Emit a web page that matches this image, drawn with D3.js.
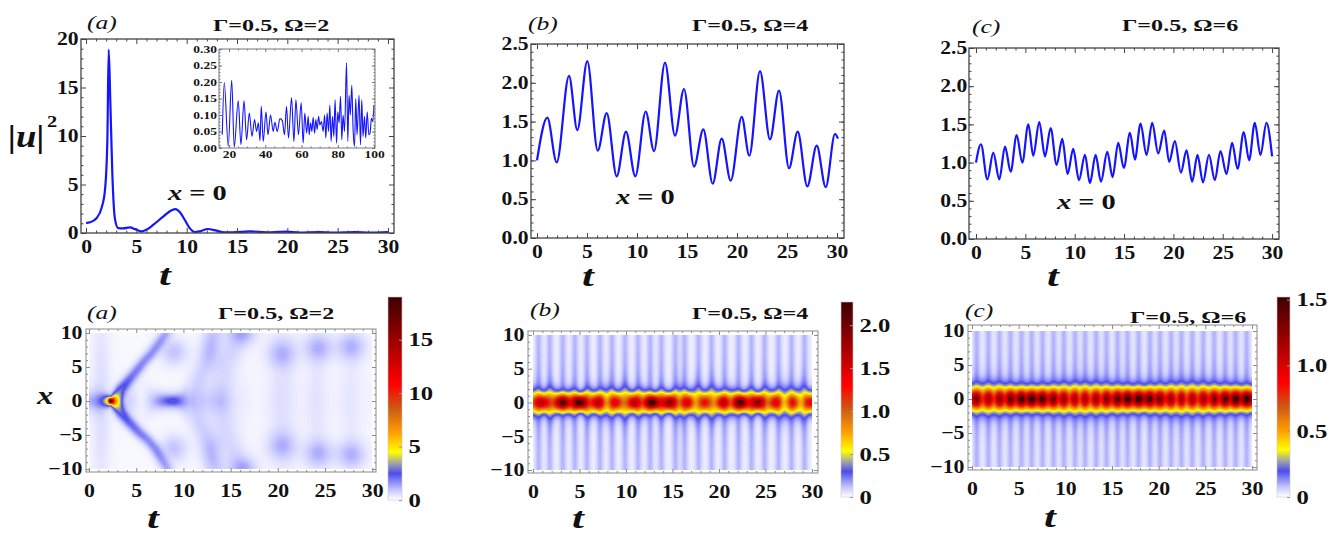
<!DOCTYPE html>
<html>
<head>
<meta charset="utf-8">
<script src="https://cdn.jsdelivr.net/npm/d3@7"></script>
<style>
  body { margin: 0; background: #fff; }
  svg { display: block; }
</style>
</head>
<body>
<svg id="fig" width="1341" height="536"></svg>
<script>
// ---------- |u(0,t)|^2 time series ----------
// Γ=0.5, Ω=2
const tA = [0, 0.4, 1.06, 1.55, 1.89, 2.12, 2.25, 2.41, 2.61, 2.88, 3.2, 3.7, 4.37, 4.86, 5.5, 6.0, 6.7, 7.7, 8.5, 8.9, 9.33, 9.8, 10.3, 10.8, 11.3, 12.1, 12.97, 13.7, 14.6, 16.3, 17.9, 19.9, 21.2, 23.2, 24.5, 26.7, 28.2, 30];
const uA = [1.03, 1.1, 1.55, 2.6, 4.5, 9.6, 18.9, 13.7, 6.2, 1.4, 0.5, 0.48, 0.58, 0.4, 0.17, 0.34, 0.86, 1.72, 2.34, 2.47, 2.13, 1.37, 0.5, 0.1, 0.17, 0.41, 0.24, 0.07, 0.07, 0.17, 0.07, 0.14, 0.04, 0.1, 0.04, 0.1, 0.04, 0.1];

// long-time tail for Ω=2 (inset)
const tInset = [16.3, 17.4, 19.6, 21.5, 22.9, 25.1, 26.6, 28.3, 29.7, 31.2, 32.7, 34.1, 35.2, 36.2, 37.1, 37.8, 38.9, 40.4, 41.5, 42.9, 44.4, 45.3, 46.6, 48.1, 49.4, 50.6, 51.7, 52.8, 54.5, 55.8, 56.9, 58.3, 59.8, 60.9, 61.8, 62.8, 63.7, 64.2, 65.0, 65.7, 66.4, 67.2, 67.9, 68.6, 69.4, 70.1, 71.0, 71.9, 72.7, 73.4, 74.1, 74.9, 75.6, 76.3, 77.1, 77.8, 78.5, 79.3, 80.0, 80.7, 81.5, 82.2, 82.9, 83.7, 84.8, 85.5, 86.2, 86.9, 87.7, 88.4, 89.2, 89.9, 90.6, 91.7, 92.5, 93.2, 93.9, 94.7, 95.4, 96.2, 97.1, 97.8, 98.5, 99.3, 99.9];
const uInset = [0.04, 0.198, 0.005, 0.205, 0.003, 0.143, 0.01, 0.143, 0.025, 0.106, 0.035, 0.086, 0.05, 0.076, 0.022, 0.126, 0.02, 0.11, 0.04, 0.10, 0.05, 0.078, 0.05, 0.089, 0.083, 0.04, 0.126, 0.03, 0.152, 0.02, 0.146, 0.04, 0.137, 0.015, 0.106, 0.045, 0.096, 0.04, 0.076, 0.05, 0.093, 0.045, 0.086, 0.056, 0.096, 0.07, 0.08, 0.05, 0.10, 0.03, 0.106, 0.05, 0.13, 0.02, 0.096, 0.035, 0.146, 0.015, 0.11, 0.076, 0.157, 0.025, 0.10, 0.05, 0.258, 0.02, 0.16, 0.10, 0.19, 0.06, 0.005, 0.15, 0.04, 0.16, 0.01, 0.146, 0.035, 0.096, 0.03, 0.11, 0.04, 0.045, 0.09, 0.08, 0.13];

// Γ=0.5, Ω=4
const tB = [0, 1.03, 1.97, 3.2, 4.03, 5.03, 6.07, 6.97, 7.97, 8.9, 9.83, 10.87, 11.7, 12.8, 13.8, 14.7, 15.7, 16.63, 17.57, 18.47, 19.37, 20.47, 21.23, 22.3, 23.3, 24.2, 25.2, 26.07, 27.03, 27.97, 28.87, 29.8, 30.1];
const uB = [1.0, 1.55, 0.975, 2.09, 1.39, 2.28, 1.125, 1.61, 0.795, 1.37, 0.795, 1.63, 1.12, 2.26, 1.32, 1.92, 0.92, 1.40, 0.70, 1.28, 0.74, 1.56, 1.06, 2.15, 1.27, 1.90, 0.90, 1.37, 0.666, 1.19, 0.657, 1.34, 1.28];

// Γ=0.5, Ω=6
const tC = [0, 0.5, 1.15, 1.75, 2.36, 2.94, 3.51, 4.12, 4.69, 5.3, 5.8, 6.41, 6.99, 7.56, 8.17, 8.74, 9.28, 9.85, 10.43, 11.04, 11.54, 12.12, 12.66, 13.3, 13.84, 14.41, 14.98, 15.6, 16.1, 16.67, 17.28, 17.85, 18.46, 19.07, 19.57, 20.15, 20.76, 21.33, 21.9, 22.44, 23.0, 23.6, 24.2, 24.77, 25.38, 25.95, 26.5, 27.13, 27.67, 28.25, 28.82, 29.43, 30.0];
const uC = [1.0, 1.24, 0.78, 1.13, 0.78, 1.21, 0.88, 1.36, 1.0, 1.50, 1.09, 1.53, 1.08, 1.45, 0.97, 1.31, 0.85, 1.18, 0.77, 1.10, 0.73, 1.10, 0.75, 1.14, 0.81, 1.26, 0.93, 1.39, 1.04, 1.51, 1.10, 1.52, 1.12, 1.42, 1.01, 1.28, 0.87, 1.16, 0.75, 1.10, 0.74, 1.10, 0.77, 1.15, 0.85, 1.26, 0.92, 1.40, 1.03, 1.52, 1.10, 1.52, 1.08];

// ---------- tick labels ----------
const tTicks = [0, 5, 10, 15, 20, 25, 30];
const uTicksA = [0, 5, 10, 15, 20];
const uTicksBC = [0, 0.5, 1.0, 1.5, 2.0, 2.5];
const insetTTicks = [20, 40, 60, 80, 100];
const insetUTicks = [0, 0.05, 0.10, 0.15, 0.20, 0.25, 0.30];
const xTicks = [-10, -5, 0, 5, 10];
const barTicksA = [0, 5, 10, 15];
const barTicksB = [0, 0.5, 1.0, 1.5, 2.0];
const barTicksC = [0, 0.5, 1.0, 1.5];
const panelTags = ["(a)", "(b)", "(c)"];
const paramTags = ["Γ=0.5, Ω=2", "Γ=0.5, Ω=4", "Γ=0.5, Ω=6"];

// ---------- |u(x,t)|^2 structures for the Ω=2 map ----------
// radiation ridges: [t, x] nodes, density carried at each node, half-width in px
const ridgesA = [
  { pts: [[2.85, 0.2], [3.05, 0.8], [3.4, 1.7], [4.0, 2.7], [4.6, 3.7], [5.7, 5.6], [6.6, 7.0], [7.5, 8.7], [8.3, 10.3]],
    amp: [2.8, 2.9, 2.4, 2.1, 1.8, 1.6, 1.5, 1.3, 1.1], w: 4 },
  { pts: [[2.85, -0.2], [3.05, -0.8], [3.4, -1.7], [4.1, -2.9], [5.2, -4.5], [6.2, -5.7], [7.0, -7.0], [7.6, -8.4], [8.4, -10.2]],
    amp: [2.8, 2.9, 2.4, 2.1, 1.8, 1.6, 1.5, 1.3, 1.1], w: 4 },
  { pts: [[10.8, 0], [11.6, 3.0], [12.4, 6.0], [13.2, 10.3]], amp: [0.45, 0.55, 0.6, 0.65], w: 7 },
  { pts: [[10.8, 0], [11.6, -3.0], [12.5, -6.0], [13.4, -10.3]], amp: [0.45, 0.55, 0.6, 0.65], w: 7 },
  { pts: [[13.9, 0], [14.4, 4.8], [15.2, 7.5], [16.0, 10.3]], amp: [0.45, 0.5, 0.55, 0.6], w: 9 },
  { pts: [[13.9, 0], [14.6, -5.0], [15.3, -7.5], [16.1, -10.3]], amp: [0.45, 0.5, 0.55, 0.6], w: 9 }
];
// localized humps: t, x, density, spread in t, spread in x
const blobT = [9.0, 9.0, 16.3, 16.4, 20.4, 20.4, 24.3, 24.3, 27.8, 27.8, 1.3, 20.6, 24.2, 27.8, 13.0, 13.0];
const blobX = [7.2, -7.0, 9.8, -9.8, 7.0, -6.6, 7.8, -7.7, 8.0, -7.9, 0, 0, 0, 0, 7.5, -7.5];
const blobV = [0.85, 0.85, 0.75, 0.75, 0.9, 0.9, 0.95, 0.95, 0.95, 0.95, 0.45, 0.35, 0.3, 0.25, 0.4, 0.4];
const blobST = [1.0, 1.0, 1.0, 1.0, 1.1, 1.1, 1.1, 1.1, 1.1, 1.1, 0.7, 1.0, 0.8, 0.8, 0.8, 0.8];
const blobSX = [1.4, 1.4, 1.1, 1.1, 1.5, 1.5, 1.4, 1.4, 1.4, 1.4, 10, 8, 8, 8, 2.0, 2.0];

// emission lanes (t positions) in the Ω=4 and Ω=6 maps
const lanesB = [0.6, 1.8, 3.2, 4.5, 5.8, 7.2, 8.5, 9.9, 11.3, 12.6, 13.8, 15.3, 16.3, 17.8, 19.2, 20.6, 22.1, 23.5, 24.9, 26.4, 27.8, 29.2];
const lanesC = [0.5, 1.75, 2.94, 4.12, 5.3, 6.41, 7.56, 8.74, 9.85, 11.04, 12.12, 13.3, 14.41, 15.6, 16.67, 17.85, 19.07, 20.15, 21.33, 22.44, 23.6, 24.77, 25.95, 27.13, 28.25, 29.43];

// colour map (fractions of the maximum)
const cmapStops = [0, 0.05, 0.13, 0.178, 0.235, 0.33, 0.45, 0.57, 0.78, 1.0];
const cmapColors = ["#ffffff", "#c6c6ff", "#4c4cec", "#9e9eb0", "#ffff00", "#ffa000", "#cc5a14", "#ff0000", "#a00000", "#3c0000"];

// ---------- helpers ----------
const SX = 1.42;
const FONT = "'Liberation Serif','Times New Roman',serif";
const svg = d3.select("#fig");

function label(g, x, y, str, o = {}) {
  return g.append("text")
    .attr("transform", `translate(${x},${y}) scale(${o.sx || SX},1)`)
    .attr("font-family", FONT)
    .attr("font-size", o.size || 17)
    .attr("font-weight", o.weight || "bold")
    .attr("font-style", o.style || "normal")
    .attr("text-anchor", o.anchor || "start")
    .attr("fill", "#111")
    .text(str);
}

function monotone(ts, vs) {
  const n = ts.length, s = [], m = new Array(n);
  for (let i = 0; i < n - 1; i++) s[i] = (vs[i + 1] - vs[i]) / (ts[i + 1] - ts[i]);
  for (let i = 1; i < n - 1; i++) {
    const h0 = ts[i] - ts[i - 1], h1 = ts[i + 1] - ts[i];
    const p = (s[i - 1] * h1 + s[i] * h0) / (h0 + h1);
    m[i] = (Math.sign(s[i - 1]) + Math.sign(s[i])) * Math.min(Math.abs(s[i - 1]), Math.abs(s[i]), 0.5 * Math.abs(p)) || 0;
  }
  m[0] = (3 * s[0] - m[1]) / 2;
  m[n - 1] = (3 * s[n - 2] - m[n - 2]) / 2;
  return t => {
    let i = d3.bisectRight(ts, t) - 1;
    i = Math.max(0, Math.min(n - 2, i));
    const h = ts[i + 1] - ts[i], u = (t - ts[i]) / h;
    const u2 = u * u, u3 = u2 * u;
    return (2 * u3 - 3 * u2 + 1) * vs[i] + (u3 - 2 * u2 + u) * h * m[i] + (-2 * u3 + 3 * u2) * vs[i + 1] + (u3 - u2) * h * m[i + 1];
  };
}

function axes(g, xs, ys, o) {
  const [xL, xR] = xs.range();
  const [yB, yT] = ys.range();
  const tidy = sel => {
    sel.select(".domain").remove();
    sel.selectAll("line").attr("stroke", o.color).attr("stroke-width", 1);
  };
  const blank = () => "";
  const add = (fn, sc, vals, size, tr, fmt, pad) =>
    g.append("g").attr("transform", tr)
      .call(fn(sc).tickValues(vals).tickSize(-size).tickSizeOuter(0).tickPadding(pad || 3).tickFormat(fmt || blank))
      .call(tidy);
  add(d3.axisBottom, xs, o.xMinor, o.minor, `translate(0,${yB})`);
  add(d3.axisTop, xs, o.xMinor, o.minor, `translate(0,${yT})`);
  add(d3.axisLeft, ys, o.yMinor, o.minor, `translate(${xL},0)`);
  add(d3.axisRight, ys, o.yMinor, o.minor, `translate(${xR},0)`);
  add(d3.axisTop, xs, o.xTicks, o.major, `translate(0,${yT})`);
  add(d3.axisRight, ys, o.yTicks, o.major, `translate(${xR},0)`);
  const bx = add(d3.axisBottom, xs, o.xTicks, o.major, `translate(0,${yB})`, o.xFmt, o.xPad);
  const ly = add(d3.axisLeft, ys, o.yTicks, o.major, `translate(${xL},0)`, o.yFmt, o.yPad);
  [bx, ly].forEach(a => a.selectAll("text")
    .attr("font-family", FONT).attr("font-size", o.fs).attr("font-weight", "bold")
    .attr("fill", "#111").attr("transform", `scale(${o.tsx || 1.2},1)`));
  g.append("rect").attr("x", xL).attr("y", yT).attr("width", xR - xL).attr("height", yB - yT)
    .attr("fill", "none").attr("stroke", o.color).attr("stroke-width", o.frameW || 1);
}

const minorT = d3.range(0, 30.5, 1).filter(v => v % 5 !== 0);
const minorX = d3.range(-10, 10.5, 1).filter(v => v % 5 !== 0);
const minus = v => (v < 0 ? "\u2212" + Math.abs(v) : String(v));

// ---------- top row: line plots ----------
function linePanel(cfg) {
  const g = svg.append("g");
  const xs = d3.scaleLinear().domain(cfg.xDom).range(cfg.xRange);
  const ys = d3.scaleLinear().domain(cfg.yDom).range(cfg.yRange);
  const id = "clip" + cfg.key;
  g.append("clipPath").attr("id", id).append("rect")
    .attr("x", cfg.xRange[0]).attr("y", cfg.yRange[1])
    .attr("width", cfg.xRange[1] - cfg.xRange[0]).attr("height", cfg.yRange[0] - cfg.yRange[1]);
  g.append("path").datum(d3.zip(cfg.t, cfg.u))
    .attr("clip-path", `url(#${id})`)
    .attr("d", d3.line().x(d => xs(d[0])).y(d => ys(d[1])).curve(d3.curveMonotoneX))
    .attr("fill", "none").attr("stroke", "#1414ff").attr("stroke-width", cfg.lw || 2.2)
    .attr("stroke-linejoin", "round");
  axes(g, xs, ys, {
    color: cfg.frameColor || "#444", frameW: cfg.frameW || 1.3, major: cfg.major || 5, minor: cfg.minor || 2.5,
    xTicks: cfg.xTicks, xMinor: cfg.xMinor, yTicks: cfg.yTicks, yMinor: cfg.yMinor,
    xFmt: cfg.xFmt, yFmt: cfg.yFmt, xPad: cfg.xPad, yPad: cfg.yPad, fs: cfg.fs || 18, tsx: cfg.tsx || 1.2
  });
  return g;
}

linePanel({
  key: "A", t: tA, u: uA, xDom: [-0.5, 30.6], xRange: [81, 394], yDom: [0, 20], yRange: [233, 39],
  xTicks: tTicks, xMinor: minorT, yTicks: uTicksA, yMinor: d3.range(0, 20.5, 1).filter(v => v % 5 !== 0),
  xFmt: d3.format("d"), yFmt: d3.format("d"), xPad: 7, yPad: 2
});
// inset: long-time behaviour
const insG = svg.append("g");
insG.append("rect").attr("x", 219).attr("y", 49).attr("width", 156).attr("height", 99).attr("fill", "#fff");
linePanel({
  key: "I", t: tInset, u: uInset, xDom: [14.5, 100.5], xRange: [219, 375], yDom: [0, 0.30], yRange: [148, 49],
  xTicks: insetTTicks, xMinor: d3.range(15, 101, 5).filter(v => v % 20 !== 0),
  yTicks: insetUTicks, yMinor: d3.range(0, 0.301, 0.01),
  xFmt: d3.format("d"), yFmt: d3.format(".2f"), xPad: 3, yPad: 1.5, fs: 9.5, tsx: 1.42, lw: 1.1,
  frameColor: "#777", frameW: 1, major: 3, minor: 1.5
});
linePanel({
  key: "B", t: tB, u: uB, xDom: [-0.6, 30.7], xRange: [531, 844], yDom: [0, 2.5], yRange: [238, 44],
  xTicks: tTicks, xMinor: minorT, yTicks: uTicksBC, yMinor: d3.range(0, 2.51, 0.1),
  xFmt: d3.format("d"), yFmt: d3.format(".1f"), xPad: 7, yPad: 2
});
linePanel({
  key: "C", t: tC, u: uC, xDom: [-0.71, 30.7], xRange: [969, 1279], yDom: [0, 2.5], yRange: [239, 48],
  xTicks: tTicks, xMinor: minorT, yTicks: uTicksBC, yMinor: d3.range(0, 2.51, 0.1),
  xFmt: d3.format("d"), yFmt: d3.format(".1f"), xPad: 7, yPad: 1.5
});

// top-row annotations
const ann = svg.append("g");
label(ann, 87, 29, panelTags[0], { style: "italic", weight: "normal", size: 18 });
label(ann, 213, 31, paramTags[0]);
label(ann, 528, 30, panelTags[1], { style: "italic", weight: "normal", size: 18 });
label(ann, 692, 31, paramTags[1]);
label(ann, 972, 33, panelTags[2], { style: "italic", weight: "normal", size: 18 });
label(ann, 1122, 31, paramTags[2]);
label(ann, 8, 147, "|u|", { style: "italic", size: 32, sx: 1.15 });
label(ann, 47, 127, "2", { size: 17, sx: 1.2 });
function xEq0(x, y) {
  const t = label(ann, x, y, "", { size: 20 });
  t.append("tspan").attr("font-style", "italic").text("x");
  t.append("tspan").text(" = 0");
}
xEq0(168, 200);
xEq0(616, 204);
xEq0(1057, 209);
label(ann, 165, 285, "t", { style: "italic", size: 30, anchor: "middle" });
label(ann, 588, 286, "t", { style: "italic", size: 30, anchor: "middle" });
label(ann, 1053, 286, "t", { style: "italic", size: 30, anchor: "middle" });

// ---------- bottom row: density maps ----------
const ampA = monotone(tA, uA), ampB = monotone(tB, uB), ampC = monotone(tC, uC);

function colorLUT(maxV) {
  const cs = d3.scaleLinear().domain(cmapStops.map(s => s * maxV)).range(cmapColors).clamp(true);
  const lut = [];
  for (let k = 0; k <= 511; k++) lut.push(d3.rgb(cs(maxV * k / 511)));
  return v => lut[Math.max(0, Math.min(511, Math.round(511 * v / maxV)))];
}

function densityPanel(cfg) {
  const g = svg.append("g");
  const xs = d3.scaleLinear().domain(cfg.xDom).range(cfg.xRange);
  const ys = d3.scaleLinear().domain(cfg.yDom).range(cfg.yRange);
  const px0 = Math.round(xs(0)), px1 = Math.round(xs(30));
  const py0 = Math.round(ys(10)), py1 = Math.round(ys(-10));
  const w = px1 - px0, h = py1 - py0;
  const cv = document.createElement("canvas");
  cv.width = w; cv.height = h;
  const ctx = cv.getContext("2d");
  const img = ctx.createImageData(w, h);
  const col = colorLUT(cfg.maxV);
  const prep = cfg.prepare ? cfg.prepare(xs, ys) : null;
  for (let j = 0; j < h; j++) {
    for (let i = 0; i < w; i++) {
      const px = px0 + i + 0.5, py = py0 + j + 0.5;
      const v = cfg.field(xs.invert(px), ys.invert(py), px, py, prep);
      const c = col(v), k = 4 * (j * w + i);
      img.data[k] = c.r; img.data[k + 1] = c.g; img.data[k + 2] = c.b; img.data[k + 3] = 255;
    }
  }
  ctx.putImageData(img, 0, 0);
  g.append("image").attr("x", px0).attr("y", py0).attr("width", w).attr("height", h)
    .attr("preserveAspectRatio", "none").attr("href", cv.toDataURL());
  axes(g, xs, ys, {
    color: "#8a8a8a", frameW: 1, major: 4, minor: 2,
    xTicks: tTicks, xMinor: minorT, yTicks: xTicks, yMinor: minorX,
    xFmt: d3.format("d"), yFmt: minus, xPad: 12, yPad: 3, fs: 18.5, tsx: 1.18
  });
  // colour bar
  const bs = d3.scaleLinear().domain([0, cfg.maxV]).range([cfg.bar.y1, cfg.bar.y0]);
  const gid = "grad" + cfg.key;
  const grad = g.append("defs").append("linearGradient").attr("id", gid)
    .attr("x1", 0).attr("y1", 1).attr("x2", 0).attr("y2", 0);
  cmapStops.forEach((s, k) => grad.append("stop").attr("offset", s).attr("stop-color", cmapColors[k]));
  g.append("rect").attr("x", cfg.bar.x).attr("y", cfg.bar.y0).attr("width", cfg.bar.w)
    .attr("height", cfg.bar.y1 - cfg.bar.y0).attr("fill", `url(#${gid})`)
    .attr("stroke", "#c8c8c8").attr("stroke-width", 0.6);
  const bt = g.append("g").attr("transform", `translate(${cfg.bar.x + cfg.bar.w},0)`)
    .call(d3.axisRight(bs).tickValues(cfg.barTicks).tickSize(-3).tickSizeOuter(0).tickPadding(5).tickFormat(cfg.barFmt));
  bt.select(".domain").remove();
  bt.selectAll("line").attr("stroke", "#999");
  bt.selectAll("text").attr("font-family", FONT).attr("font-size", 19).attr("font-weight", "bold")
    .attr("fill", "#111").attr("transform", `scale(1.3,1)`);
  return g;
}

function ridgeSum(px, py, ridges) {
  let v = 0;
  for (const r of ridges) {
    let best = Infinity, bestA = 0;
    for (let s = 0; s < r.p.length - 1; s++) {
      const [ax, ay] = r.p[s], [bx, by] = r.p[s + 1];
      const dx = bx - ax, dy = by - ay, L2 = dx * dx + dy * dy;
      let u = ((px - ax) * dx + (py - ay) * dy) / L2;
      u = Math.max(0, Math.min(1, u));
      const qx = ax + u * dx - px, qy = ay + u * dy - py, d2 = qx * qx + qy * qy;
      if (d2 < best) { best = d2; bestA = r.amp[s] + u * (r.amp[s + 1] - r.amp[s]); }
    }
    v += bestA * Math.exp(-best / (2 * r.w * r.w));
  }
  return v;
}

const soliton = (A, x) => { const s = 1 / Math.cosh(0.7 * Math.sqrt(A) * x); return A * s * s; };

densityPanel({
  key: "A", xDom: [-0.32, 30.4], xRange: [86, 376], yDom: [-10.44, 10.59], yRange: [472, 329],
  maxV: 19, barTicks: barTicksA, barFmt: d3.format("d"),
  bar: { x: 388, w: 14, y0: 297, y1: 500 },
  prepare: (xs, ys) => ridgesA.map(r => ({ p: r.pts.map(d => [xs(d[0]), ys(d[1])]), amp: r.amp, w: r.w })),
  field: (t, x, px, py, rid) => {
    let v = 0.12 + soliton(Math.max(ampA(t), 0.02), x);
    v += ridgeSum(px, py, rid);
    for (let k = 0; k < blobT.length; k++) {
      const a = (t - blobT[k]) / blobST[k], b = (x - blobX[k]) / blobSX[k];
      v += blobV[k] * Math.exp(-0.5 * (a * a + b * b));
    }
    return v;
  }
});

function laneSum(t, x, lanes, amp) {
  const ax = Math.abs(x), near = 1 + 0.2 * Math.exp(-0.5 * ((ax - 3) / 2) ** 2);
  let v = 0;
  for (const c of lanes) { const a = (t - c) / 0.28; v += amp * near * Math.exp(-0.5 * a * a); }
  return v;
}

densityPanel({
  key: "B", xDom: [-0.54, 30.65], xRange: [528, 818], yDom: [-10.44, 10.59], yRange: [473, 331],
  maxV: 2.27, barTicks: barTicksB, barFmt: v => (v === 0 ? "0" : d3.format(".1f")(v)),
  bar: { x: 841, w: 12, y0: 302, y1: 497 },
  field: (t, x) => 0.03 + soliton(Math.max(ampB(t), 0.05), x) + laneSum(t, x, lanesB, 0.11)
});

densityPanel({
  key: "C", xDom: [-0.43, 30.54], xRange: [968, 1257], yDom: [-10.44, 10.88], yRange: [470, 325],
  maxV: 1.52, barTicks: barTicksC, barFmt: v => (v === 0 ? "0" : d3.format(".1f")(v)),
  bar: { x: 1277, w: 13, y0: 297, y1: 497 },
  field: (t, x) => 0.02 + soliton(Math.max(ampC(t), 0.05), x) + laneSum(t, x, lanesC, 0.075)
});

// bottom-row annotations
const ann2 = svg.append("g");
label(ann2, 87, 319, panelTags[0], { style: "italic", weight: "normal", size: 18 });
label(ann2, 218, 319, paramTags[0]);
label(ann2, 530, 316, panelTags[1], { style: "italic", weight: "normal", size: 18 });
label(ann2, 692, 319, paramTags[1]);
label(ann2, 965, 317, panelTags[2], { style: "italic", weight: "normal", size: 18 });
label(ann2, 1130, 323, paramTags[2]);
label(ann2, 37, 404, "x", { style: "italic", size: 26, sx: 1.25 });
label(ann2, 153, 528, "t", { style: "italic", size: 30, anchor: "middle" });
label(ann2, 578, 528, "t", { style: "italic", size: 30, anchor: "middle" });
label(ann2, 1050, 527, "t", { style: "italic", size: 30, anchor: "middle" });
</script>
</body>
</html>
